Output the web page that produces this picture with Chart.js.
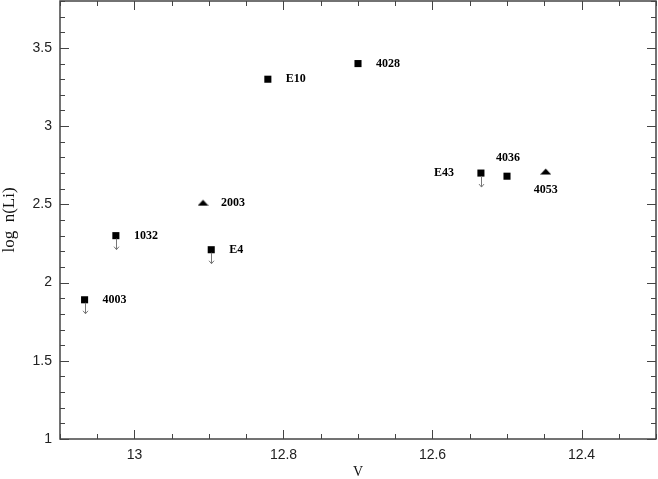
<!DOCTYPE html>
<html>
<head>
<meta charset="utf-8">
<script src="https://cdn.jsdelivr.net/npm/chart.js@4/dist/chart.umd.min.js"></script>
<style>
  html, body { margin: 0; padding: 0; background: #fff; }
  canvas { display: block; }
</style>
</head>
<body>
<canvas id="chart" width="658" height="479"></canvas>
<script>
// star names, V magnitude and lithium abundance
const stars = ['4003', '1032', '2003', 'E4', 'E10', '4028', 'E43', '4036', '4053'];
const vMag = [13.067, 13.025, 12.908, 12.897, 12.821, 12.700, 12.535, 12.500, 12.448];
const logLi = [1.89, 2.30, 2.51, 2.21, 3.30, 3.40, 2.70, 2.68, 2.71];
const upperLimit = [true, true, false, true, false, false, true, false, false];
const marker = ['square', 'square', 'triangle', 'square', 'square', 'square', 'square', 'square', 'triangle'];

const xTicks = [13, 12.8, 12.6, 12.4];
const yTicks = [1, 1.5, 2, 2.5, 3, 3.5];

// where each name sits relative to its marker
const labelSide = ['right', 'right', 'right', 'right', 'right', 'right', 'left', 'above', 'below'];

// flat filled triangle used for the two triangle markers
const tri = document.createElement('canvas');
tri.width = 11;
tri.height = 7;
const tc = tri.getContext('2d');
tc.fillStyle = '#000';
tc.beginPath();
tc.moveTo(5.5, 0.5);
tc.lineTo(11, 6.5);
tc.lineTo(0, 6.5);
tc.closePath();
tc.fill();

const FRAME = '#444';

function seg(ctx, x1, y1, x2, y2) {
  ctx.beginPath();
  ctx.moveTo(x1, y1);
  ctx.lineTo(x2, y2);
  ctx.stroke();
}

const frameTicks = {
  id: 'frameTicks',
  afterDraw(chart) {
    const { ctx, chartArea: a, scales: { x, y } } = chart;
    ctx.save();
    ctx.strokeStyle = FRAME;
    ctx.lineWidth = 1;
    // x ticks every 0.05, major every 0.2
    for (let i = 0; i <= 16; i++) {
      const v = 12.3 + i * 0.05;
      const major = Math.abs(v * 5 - Math.round(v * 5)) < 1e-6;
      const len = major ? 9 : 5;
      const px = Math.round(x.getPixelForValue(v)) + 0.5;
      seg(ctx, px, a.bottom, px, a.bottom - len);
      seg(ctx, px, a.top, px, a.top + len);
    }
    // y ticks every 0.1, major every 0.5
    for (let i = 0; i <= 28; i++) {
      const v = 1 + i * 0.1;
      const major = Math.abs(v * 2 - Math.round(v * 2)) < 1e-6;
      const len = major ? 9 : 5;
      const py = Math.round(y.getPixelForValue(v)) + 0.5;
      seg(ctx, a.left, py, a.left + len, py);
      seg(ctx, a.right, py, a.right - len, py);
    }
    ctx.lineWidth = 1.5;
    ctx.strokeRect(a.left, a.top, a.right - a.left, a.bottom - a.top);
    ctx.restore();
  },
  afterDatasetsDraw(chart) {
    const ctx = chart.ctx;
    const pts = chart.getDatasetMeta(0).data;
    ctx.save();
    // upper limit arrows
    ctx.strokeStyle = '#777';
    ctx.lineWidth = 1;
    pts.forEach((p, i) => {
      if (!upperLimit[i]) return;
      const px = Math.round(p.x) + 0.5;
      const tip = p.y + 14;
      seg(ctx, px, p.y + 3, px, tip);
      ctx.beginPath();
      ctx.moveTo(px - 2.5, tip - 3);
      ctx.lineTo(px, tip);
      ctx.lineTo(px + 2.5, tip - 3);
      ctx.stroke();
    });
    // star names
    ctx.fillStyle = '#000';
    ctx.font = 'bold 12px "Liberation Serif", serif';
    ctx.textBaseline = 'middle';
    pts.forEach((p, i) => {
      const side = labelSide[i];
      if (side === 'right') {
        ctx.textAlign = 'left';
        ctx.fillText(stars[i], p.x + 18, p.y);
      } else if (side === 'left') {
        ctx.textAlign = 'right';
        ctx.fillText(stars[i], p.x - 27, p.y);
      } else if (side === 'above') {
        ctx.textAlign = 'center';
        ctx.fillText(stars[i], p.x + 1, p.y - 18);
      } else {
        ctx.textAlign = 'center';
        ctx.fillText(stars[i], p.x, p.y + 18);
      }
    });
    ctx.restore();
  }
};

new Chart(document.getElementById('chart'), {
  type: 'scatter',
  data: {
    datasets: [{
      data: vMag.map((v, i) => ({ x: v, y: logLi[i] })),
      pointStyle: marker.map(m => (m === 'triangle' ? tri : 'rect')),
      pointRadius: 5,
      pointBackgroundColor: '#000',
      pointBorderColor: '#000',
      pointBorderWidth: 0,
    }],
  },
  options: {
    responsive: false,
    animation: false,
    events: [],
    layout: { autoPadding: false, padding: { top: 1, right: 2, left: 0, bottom: 0 } },
    plugins: {
      legend: { display: false },
      tooltip: { enabled: false },
    },
    scales: {
      x: {
        type: 'linear',
        reverse: true,
        min: 12.3,
        max: 13.1,
        afterBuildTicks: s => { s.ticks = xTicks.map(v => ({ value: v })); },
        afterFit: s => { s.height = 40; s.paddingLeft = 0; s.paddingRight = 0; },
        grid: { display: false, drawTicks: false },
        border: { display: false },
        ticks: {
          padding: 8,
          color: '#222',
          font: { family: '"Liberation Sans", sans-serif', size: 14 },
          callback: v => String(v),
        },
        title: {
          display: true,
          text: 'V',
          color: '#111',
          font: { family: '"Liberation Serif", serif', size: 14, lineHeight: 1 },
          padding: { top: 0, bottom: 0 },
        },
      },
      y: {
        type: 'linear',
        min: 1,
        max: 3.8,
        afterBuildTicks: s => { s.ticks = yTicks.map(v => ({ value: v })); },
        afterFit: s => { s.width = 60; s.paddingTop = 0; s.paddingBottom = 0; },
        grid: { display: false, drawTicks: false },
        border: { display: false },
        ticks: {
          padding: 8,
          color: '#222',
          font: { family: '"Liberation Sans", sans-serif', size: 14 },
          callback: v => String(v),
        },
        title: {
          display: true,
          text: 'log  n(Li)',
          color: '#111',
          font: { family: '"Liberation Serif", serif', size: 17, lineHeight: 1 },
          padding: { top: 1, bottom: 0 },
        },
      },
    },
  },
  plugins: [frameTicks],
});
</script>
</body>
</html>
